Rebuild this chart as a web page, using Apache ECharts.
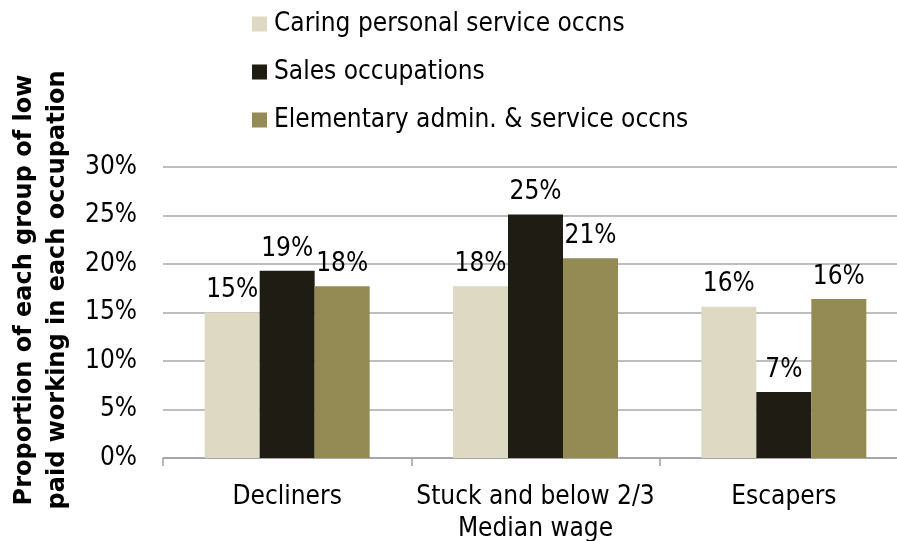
<!DOCTYPE html>
<html>
<head>
<meta charset="utf-8">
<script src="https://cdn.jsdelivr.net/npm/echarts@6/dist/echarts.min.js"></script>
<style>
html,body{margin:0;padding:0;background:#fff;}
#chart{width:897px;height:541px;}
</style>
</head>
<body>
<div id="chart"></div>
<script>
const categories = ["Decliners", "Stuck and below 2/3\nMedian wage", "Escapers"];
const caringValues = [15.0, 17.7, 15.6];
const salesValues = [19.3, 25.1, 6.8];
const elementaryValues = [17.7, 20.6, 16.4];
const seriesNames = ["Caring personal service occns", "Sales occupations", "Elementary admin. & service occns"];
const yTicks = { min: 0, max: 30, interval: 5 };
const yTitle = "Proportion of each group of low\npaid working in each occupation";

const colors = ["#DDD9C3", "#1F1D13", "#948A54"];
const FONT = "'DejaVu Sans Condensed', 'DejaVu Sans', sans-serif";

const chart = echarts.init(document.getElementById('chart'), null, { renderer: 'canvas' });

function barSeries(name, data, color) {
  return {
    name: name,
    type: 'bar',
    data: data,
    barWidth: 55,
    barGap: '0%',
    itemStyle: { color: color },
    label: {
      show: true,
      position: 'top',
      distance: 9,
      formatter: p => Math.round(p.value) + '%',
      fontFamily: FONT,
      fontSize: 26,
      color: '#000'
    }
  };
}

chart.setOption({
  animation: false,
  backgroundColor: '#fff',
  color: colors,
  legend: {
    orient: 'vertical',
    left: 247,
    top: 4,
    itemWidth: 15,
    itemHeight: 15,
    itemGap: 18,
    icon: 'rect',
    textStyle: { fontFamily: FONT, fontSize: 26, color: '#000', lineHeight: 30, padding: [0, 0, 0, 2] },
    data: seriesNames
  },
  grid: { left: 163, right: -11, top: 167, bottom: 83, containLabel: false, outerBoundsMode: 'none' },
  xAxis: {
    type: 'category',
    data: categories,
    axisLine: { show: true, lineStyle: { color: '#A0A0A0', width: 1.5 } },
    axisTick: { show: true, length: 8, lineStyle: { color: '#A0A0A0', width: 1.5 } },
    axisLabel: { fontFamily: FONT, fontSize: 26, color: '#000', lineHeight: 32, margin: 23, interval: 0 }
  },
  yAxis: {
    type: 'value',
    min: yTicks.min,
    max: yTicks.max,
    interval: yTicks.interval,
    name: yTitle,
    nameLocation: 'middle',
    nameGap: 89,
    nameRotate: 90,
    nameTextStyle: { fontFamily: "'DejaVu Sans', sans-serif", fontWeight: 'bold', fontSize: 24, color: '#000', lineHeight: 33, padding: [0, 0, 0, 45] },
    axisLine: { show: false },
    axisTick: { show: false },
    splitLine: { show: true, lineStyle: { color: '#A8A8A8', width: 1.5 } },
    axisLabel: { fontFamily: FONT, fontSize: 26, color: '#000', margin: 26, formatter: v => v + '%' }
  },
  series: [
    barSeries(seriesNames[0], caringValues, colors[0]),
    barSeries(seriesNames[1], salesValues, colors[1]),
    barSeries(seriesNames[2], elementaryValues, colors[2])
  ]
});
</script>
</body>
</html>
